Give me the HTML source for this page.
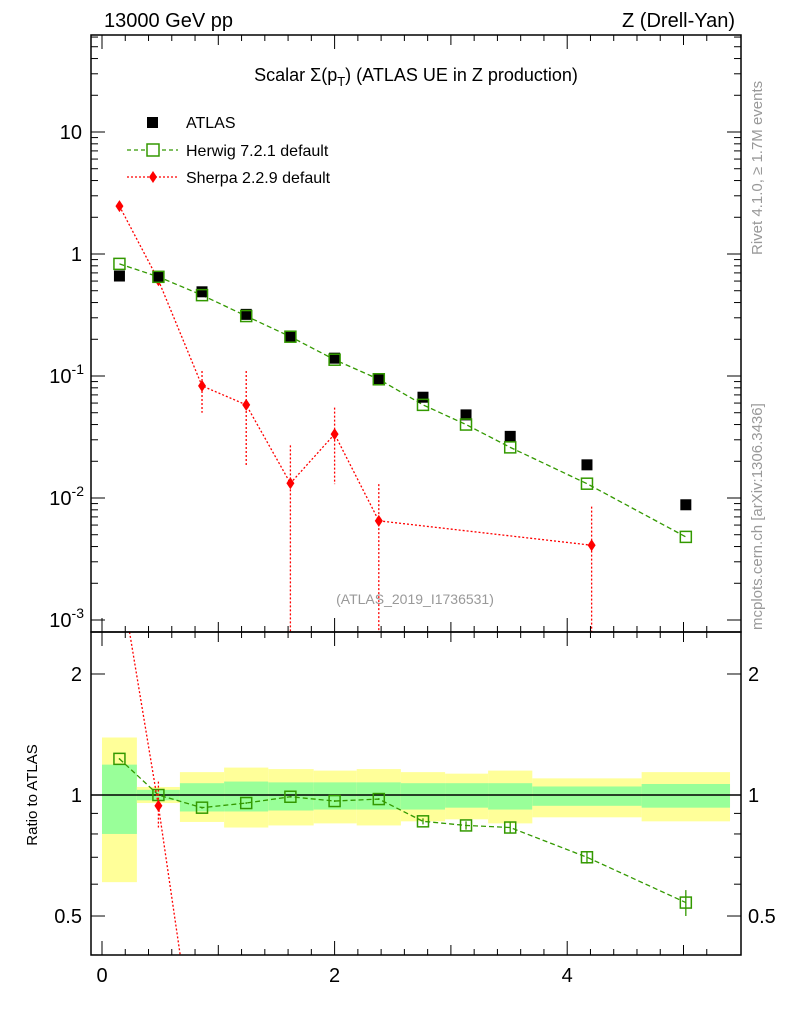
<!DOCTYPE html>
<html><head><meta charset="utf-8"><style>
html,body{margin:0;padding:0;background:#fff;width:786px;height:1024px;overflow:hidden;}
svg{display:block;font-family:"Liberation Sans",sans-serif;}
</style></head><body>
<svg width="786" height="1024" xmlns="http://www.w3.org/2000/svg">
<defs>
<clipPath id="cm"><rect x="91" y="35" width="650" height="597"/></clipPath>
<clipPath id="cr"><rect x="91" y="632" width="650" height="323"/></clipPath>
</defs>
<g id="root"></g>
<text x="104" y="27" font-size="20">13000 GeV pp</text>
<text x="735" y="27" font-size="20" text-anchor="end">Z (Drell-Yan)</text>
<text x="416" y="81" font-size="18" text-anchor="middle">Scalar Σ(p<tspan font-size="13" dy="5">T</tspan><tspan dy="-5">) (ATLAS UE in Z production)</tspan></text>
<text x="415" y="604" font-size="14" fill="#999" text-anchor="middle">(ATLAS_2019_I1736531)</text>
<text transform="translate(762,255) rotate(-90)" font-size="15" fill="#999">Rivet 4.1.0, ≥ 1.7M events</text>
<text transform="translate(762,630) rotate(-90)" font-size="15" fill="#999">mcplots.cern.ch [arXiv:1306.3436]</text>
<text transform="translate(37,795) rotate(-90)" font-size="15" text-anchor="middle">Ratio to ATLAS</text>
<g>
<rect x="147" y="117" width="11" height="11" fill="#000"/>
<text x="186" y="128" font-size="16">ATLAS</text>
<line x1="127" y1="150" x2="178" y2="150" stroke="#339900" stroke-dasharray="4,3" stroke-width="1.3"/>
<rect x="147" y="144" width="12" height="12" fill="#fff" stroke="#339900" stroke-width="1.5"/>
<text x="186" y="156" font-size="16">Herwig 7.2.1 default</text>
<line x1="127" y1="177" x2="178" y2="177" stroke="red" stroke-dasharray="2,2" stroke-width="1.3"/>
<path d="M153,171 L157,177 L153,183 L149,177Z" fill="red"/>
<text x="186" y="183" font-size="16">Sherpa 2.2.9 default</text>
</g>
</svg>
<script>
const xVals=[0.15,0.485,0.86,1.24,1.62,2.0,2.38,2.76,3.13,3.51,4.17,5.02];
const binEdges=[0,0.30,0.67,1.05,1.43,1.82,2.19,2.57,2.95,3.32,3.70,4.64,5.40];
const atlasVals=[0.66,0.65,0.49,0.32,0.21,0.14,0.095,0.067,0.048,0.032,0.0187,0.0088];
const herwigVals=[0.83,0.65,0.46,0.31,0.21,0.136,0.094,0.058,0.040,0.026,0.0131,0.0048];
const herwigRatio=[1.23,1.0,0.93,0.955,0.99,0.966,0.977,0.86,0.84,0.83,0.70,0.54];
const herwigRatioErr=[0.005,0.005,0.005,0.005,0.005,0.005,0.005,0.015,0.02,0.025,0.025,0.04];
const sherpaX=[0.15,0.485,0.86,1.24,1.62,2.0,2.38,4.21];
const sherpaVals=[2.47,0.61,0.083,0.058,0.0132,0.0334,0.0065,0.0041];
const sherpaLo=[2.3,0.57,0.05,0.018,0.0005,0.013,0.0005,0.0005];
const sherpaHi=[2.6,0.66,0.11,0.11,0.027,0.055,0.013,0.0085];
const sherpaRatio=[3.6,0.94,0.17];
const yellowUp=[1.39,1.047,1.14,1.17,1.16,1.15,1.16,1.14,1.13,1.15,1.10,1.14];
const yellowDn=[0.607,0.955,0.857,0.83,0.84,0.85,0.84,0.86,0.87,0.85,0.88,0.86];
const greenUp=[1.19,1.03,1.07,1.08,1.075,1.075,1.075,1.07,1.07,1.07,1.05,1.065];
const greenDn=[0.80,0.97,0.91,0.91,0.915,0.92,0.92,0.92,0.93,0.92,0.94,0.93];
const xTicks=[0,2,4];
const mainTicks=[[10,"10"],[1,"1"],[0.1,"10^-1"],[0.01,"10^-2"],[0.001,"10^-3"]];
const ratioTicks=[[2,"2"],[1,"1"],[0.5,"0.5"]];

const NS="http://www.w3.org/2000/svg";
const root=document.getElementById('root');
const X=v=>102+116.3*v;
const Y=v=>Math.min(632,254-122*Math.log10(v));
const YR=v=>795-402*Math.log10(v);
function mk(tag,attrs,parent){const e=document.createElementNS(NS,tag);for(const k in attrs)e.setAttribute(k,attrs[k]);(parent||root).appendChild(e);return e;}
const gm=mk('g',{'clip-path':'url(#cm)'});
const gr=mk('g',{'clip-path':'url(#cr)'});
for(let i=0;i<xVals.length;i++){
  const x0=X(binEdges[i]),x1=X(binEdges[i+1]);
  let b=mk('rect',{x:x0,y:YR(yellowUp[i]),width:x1-x0,height:YR(yellowDn[i])-YR(yellowUp[i]),fill:'#ffff99'},gr);
  
  
  b=mk('rect',{x:x0,y:YR(greenUp[i]),width:x1-x0,height:YR(greenDn[i])-YR(greenUp[i]),fill:'#99ff99'},gr);
  
  
}
mk('line',{x1:91,x2:741,y1:YR(1),y2:YR(1),stroke:'#000','stroke-width':1.5},gr);
mk('rect',{x:91,y:35,width:650,height:597,fill:'none',stroke:'#000','stroke-width':1.5});
mk('rect',{x:91,y:632,width:650,height:323,fill:'none',stroke:'#000','stroke-width':1.5});
for(let d=-3;d<=1;d++){for(let m=1;m<10;m++){const v=m*Math.pow(10,d);const y=254-122*Math.log10(v);if(y<35||y>632)continue;const L=m==1?14:7;
 mk('line',{x1:91,x2:91+L,y1:y,y2:y,stroke:'#000'});mk('line',{x1:741,x2:741-L,y1:y,y2:y,stroke:'#000'});}}
mainTicks.forEach(t=>{const y=254-122*Math.log10(t[0]);const p=t[1].split('^');
 const tx=mk('text',{x:82,y:y+7,'font-size':20,'text-anchor':'end'});
 
 
 if(p.length>1){tx.textContent='10';const s=mk('tspan',{'font-size':14,dy:-9},tx);s.textContent=p[1];tx.setAttribute('x',84);}else tx.textContent=p[0];});
[0.4,0.5,0.6,0.7,0.8,0.9,1,2].forEach(v=>{const y=YR(v);const L=(v==0.5||v==1||v==2)?14:7;
 mk('line',{x1:91,x2:91+L,y1:y,y2:y,stroke:'#000'});mk('line',{x1:741,x2:741-L,y1:y,y2:y,stroke:'#000'});});
ratioTicks.forEach(t=>{const y=YR(t[0]);
 let tx=mk('text',{x:82,y:y+7,'font-size':20,'text-anchor':'end'});tx.textContent=t[1];
 
 
 tx=mk('text',{x:748,y:y+7,'font-size':20});tx.textContent=t[1];
 
 });
for(let v=0;v<=5.4;v+=0.2){const x=X(v);const maj=Math.abs(v/2-Math.round(v/2))<0.01;const mid=Math.abs(v-Math.round(v))<0.01;const L=maj?14:(mid?10:6);
 [35,632].forEach(y0=>mk('line',{x1:x,x2:x,y1:y0,y2:y0+L,stroke:'#000'}));
 [632,955].forEach(y0=>mk('line',{x1:x,x2:x,y1:y0,y2:y0-L,stroke:'#000'}));}
xTicks.forEach(v=>{const tx=mk('text',{x:X(v),y:982,'font-size':20,'text-anchor':'middle'});tx.textContent=v;
 
 });
mk('polyline',{points:xVals.map((x,i)=>X(x)+','+Y(herwigVals[i])).join(' '),fill:'none',stroke:'#339900','stroke-width':1.3,'stroke-dasharray':'5,3'},gm);
mk('polyline',{points:sherpaX.map((x,i)=>X(x)+','+Y(sherpaVals[i])).join(' '),fill:'none',stroke:'red','stroke-width':1.3,'stroke-dasharray':'2,2'},gm);
sherpaX.forEach((x,i)=>{mk('line',{x1:X(x),x2:X(x),y1:Y(sherpaHi[i]),y2:Y(sherpaLo[i]),stroke:'red','stroke-dasharray':'2,2','stroke-width':1.3},gm);
 const cx=X(x),cy=Y(sherpaVals[i]);
 const p=mk('path',{d:`M${cx},${cy-6}L${cx+4},${cy}L${cx},${cy+6}L${cx-4},${cy}Z`,fill:'red'},gm);
 
 });
xVals.forEach((x,i)=>{const r=mk('rect',{x:X(x)-5.5,y:Y(atlasVals[i])-5.5,width:11,height:11,fill:'#000'},gm);
 
 });
xVals.forEach((x,i)=>{const r=mk('rect',{x:X(x)-5.5,y:Y(herwigVals[i])-5.5,width:11,height:11,fill:'none',stroke:'#339900','stroke-width':1.5},gm);
 
 });
mk('polyline',{points:xVals.map((x,i)=>X(x)+','+YR(herwigRatio[i])).join(' '),fill:'none',stroke:'#339900','stroke-width':1.3,'stroke-dasharray':'5,3'},gr);
xVals.forEach((x,i)=>{const r0=herwigRatio[i],e=herwigRatioErr[i];
 mk('line',{x1:X(x),x2:X(x),y1:YR(r0+e),y2:YR(r0-e),stroke:'#339900','stroke-width':1.3},gr);
 const r=mk('rect',{x:X(x)-5.5,y:YR(r0)-5.5,width:11,height:11,fill:'none',stroke:'#339900','stroke-width':1.5},gr);
 
 });
// sherpa ratio line, segments clipped to panel
function clipSeg(x1,y1,x2,y2){
  const lo=632,hi=955;
  function cut(xa,ya,xb,yb){ // move (xa,ya) inside
    if(ya<lo){const t=(lo-ya)/(yb-ya);return [xa+t*(xb-xa),lo];}
    if(ya>hi){const t=(hi-ya)/(yb-ya);return [xa+t*(xb-xa),hi];}
    return [xa,ya];}
  const a=cut(x1,y1,x2,y2),b=cut(x2,y2,x1,y1);return [a,b];}
for(let i=0;i<sherpaRatio.length-1;i++){
  const s=clipSeg(X(sherpaX[i]),YR(sherpaRatio[i]),X(sherpaX[i+1]),YR(sherpaRatio[i+1]));
  const l=mk('line',{x1:s[0][0],y1:s[0][1],x2:s[1][0],y2:s[1][1],stroke:'red','stroke-width':1.3,'stroke-dasharray':'2,2'},gr);
  
  
}
mk('line',{x1:X(sherpaX[1]),x2:X(sherpaX[1]),y1:YR(1.08),y2:YR(0.83),stroke:'red','stroke-width':1.3,'stroke-dasharray':'2,2'},gr);
{const cx=X(sherpaX[1]),cy=YR(sherpaRatio[1]);
 const p=mk('path',{d:`M${cx},${cy-6}L${cx+4},${cy}L${cx},${cy+6}L${cx-4},${cy}Z`,fill:'red'},gr);
 
 }
</script>
</body></html>
